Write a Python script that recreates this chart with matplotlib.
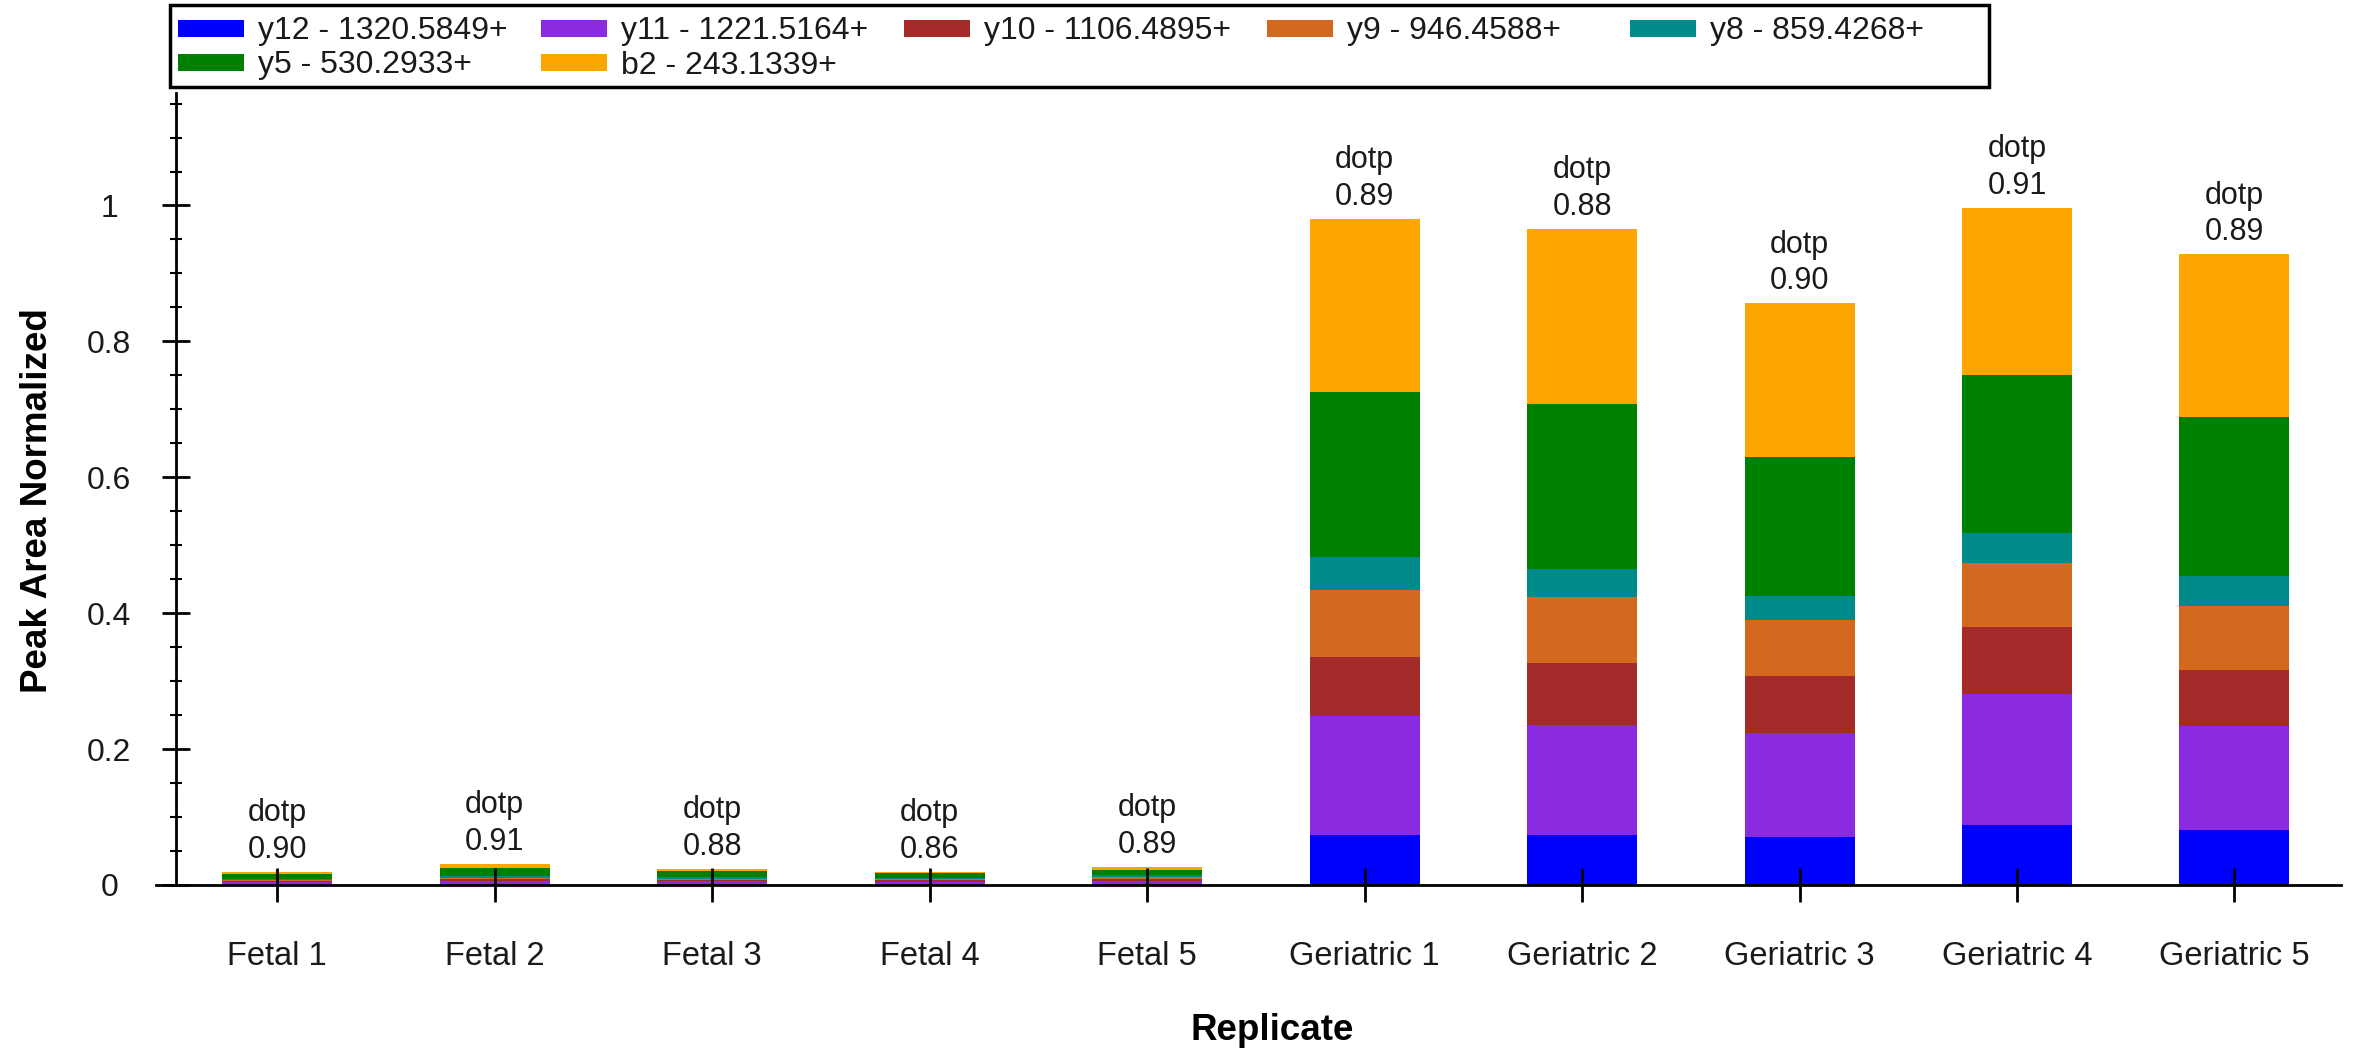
import matplotlib
matplotlib.use("Agg")
import matplotlib.pyplot as plt
from matplotlib.patches import Rectangle
from matplotlib.ticker import MultipleLocator, FixedLocator
import numpy as np

plt.rcParams['font.family'] = ['Liberation Sans', 'DejaVu Sans']

# ---------------- data ----------------
replicates = ["Fetal 1", "Fetal 2", "Fetal 3", "Fetal 4", "Fetal 5",
              "Geriatric 1", "Geriatric 2", "Geriatric 3", "Geriatric 4", "Geriatric 5"]

series_labels = ["y12 - 1320.5849+", "y11 - 1221.5164+", "y10 - 1106.4895+",
                 "y9 - 946.4588+", "y8 - 859.4268+", "y5 - 530.2933+", "b2 - 243.1339+"]
series_colors = ["#0000FF", "#8A2BE2", "#A52A2A", "#D2691E", "#008B8B", "#008000", "#FFA500"]

y12 = [0.0007, 0.0010, 0.0013, 0.0012, 0.0015, 0.074, 0.074, 0.071, 0.088, 0.081]
y11 = [0.0032, 0.0052, 0.0041, 0.0037, 0.0049, 0.175, 0.161, 0.152, 0.193, 0.153]
y10 = [0.0019, 0.0022, 0.0022, 0.0019, 0.0029, 0.087, 0.091, 0.084, 0.098, 0.083]
y9  = [0.0015, 0.0022, 0.0019, 0.0018, 0.0029, 0.098, 0.098, 0.083, 0.095, 0.094]
y8  = [0.0015, 0.0022, 0.0018, 0.0015, 0.0022, 0.048, 0.041, 0.036, 0.044, 0.044]
y5  = [0.0074, 0.0118, 0.0096, 0.0077, 0.0074, 0.243, 0.243, 0.204, 0.233, 0.234]
b2  = [0.0025, 0.0059, 0.0022, 0.0019, 0.0052, 0.255, 0.258, 0.226, 0.246, 0.239]

dotp = ["0.90", "0.91", "0.88", "0.86", "0.89", "0.89", "0.88", "0.90", "0.91", "0.89"]

y_major_ticks = [0, 0.2, 0.4, 0.6, 0.8, 1.0]
y_tick_labels = ["0", "0.2", "0.4", "0.6", "0.8", "1"]

# ---------------- figure ----------------
W, H = 2361, 1049
DPI = 100
fig = plt.figure(figsize=(W / DPI, H / DPI), dpi=DPI)

YMAX = 1.165
ax_left_px, ax_right_px = 176, 2341
ax_bottom_px = 885
ax_top_px = ax_bottom_px - YMAX * 679.5
ax = fig.add_axes([ax_left_px / W, 1 - ax_bottom_px / H,
                   (ax_right_px - ax_left_px) / W, (ax_bottom_px - ax_top_px) / H])

series = [y12, y11, y10, y9, y8, y5, b2]
x = np.arange(len(replicates))
bottom = np.zeros(len(replicates))
for vals, col, lab in zip(series, series_colors, series_labels):
    ax.bar(x, vals, width=0.506, bottom=bottom, color=col, label=lab, linewidth=0)
    bottom = bottom + np.array(vals)

text_color = "#1a1a1a"
for xi, top, d in zip(x, bottom, dotp):
    ax.annotate("dotp\n" + d, xy=(xi, top), xytext=(0, 5), textcoords="offset points",
                ha="center", va="bottom", fontsize=22, color=text_color, linespacing=1.3)

ax.set_xlim(-0.466, 9.49)
ax.set_ylim(0, YMAX)

for s in ["top", "right"]:
    ax.spines[s].set_visible(False)
ax.spines["left"].set_linewidth(2)
ax.spines["bottom"].set_linewidth(2)
ax.spines["left"].set_bounds(0, YMAX)
ax.spines["bottom"].set_bounds(-0.56, 9.49)

ax.set_xticks(x)
ax.set_xticklabels(replicates)
ax.yaxis.set_major_locator(FixedLocator(y_major_ticks))
ax.set_yticklabels(y_tick_labels)
ax.yaxis.set_minor_locator(MultipleLocator(0.05))
ax.tick_params(axis="x", which="major", direction="inout", length=24, width=2,
               labelsize=23.5, pad=28, colors="black", labelcolor=text_color)
ax.tick_params(axis="y", which="major", direction="inout", length=20, width=2,
               labelsize=23, pad=38, colors="black", labelcolor=text_color)
ax.tick_params(axis="y", which="minor", direction="inout", length=9, width=1.5, colors="black")
for lbl in ax.get_yticklabels():
    lbl.set_horizontalalignment("center")

fig.text(38 / W, 1 - 501 / H, "Peak Area Normalized", rotation=90, ha="center", va="center",
         fontsize=26.5, fontweight="bold", color="black")
fig.text(1272 / W, 1 - 1030 / H, "Replicate", ha="center", va="center",
         fontsize=26.5, fontweight="bold", color="black")

# ---------------- legend (fixed-column layout) ----------------
leg_left, leg_right, leg_top, leg_bot = 170, 1989, 5, 87
fig.patches.append(Rectangle((leg_left / W, 1 - leg_bot / H), (leg_right - leg_left) / W,
                             (leg_bot - leg_top) / H, transform=fig.transFigure,
                             facecolor="white", edgecolor="black", linewidth=2.5))
col_x = [178 + 363 * i for i in range(5)]
row_y = [28, 62]
hw, hh = 66, 17
for i, (lab, col) in enumerate(zip(series_labels, series_colors)):
    r, c = divmod(i, 5)
    hx, hy = col_x[c], row_y[r]
    fig.patches.append(Rectangle((hx / W, 1 - (hy + hh / 2) / H), hw / W, hh / H,
                                 transform=fig.transFigure, facecolor=col, edgecolor="none"))
    fig.text((hx + 80) / W, 1 - hy / H, lab, ha="left", va="center_baseline",
             fontsize=23, color=text_color)

fig.savefig("out.png", dpi=DPI)
